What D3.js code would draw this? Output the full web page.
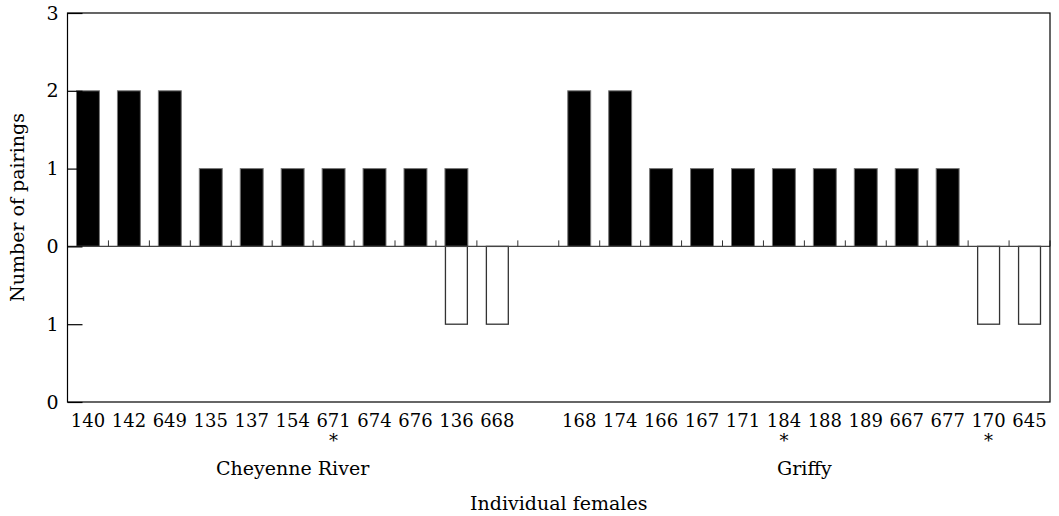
<!DOCTYPE html>
<html>
<head>
<meta charset="utf-8">
<script src="https://cdn.jsdelivr.net/npm/d3@7"></script>
<style>
    body { margin: 0; background: #fff; }
    svg text { font-family: "DejaVu Serif", serif; fill: #000; }
</style>
</head>
<body>
<div id="chart"></div>
<script>
// Individual females, in plotting order ("" = empty spacer slot between sites)
const females = ["140", "142", "649", "135", "137", "154", "671", "674", "676", "136", "668", "",
    "168", "174", "166", "167", "171", "184", "188", "189", "667", "677", "170", "645"];
// Pairings plotted above the zero line (black bars)
const pairingsAbove = [2, 2, 2, 1, 1, 1, 1, 1, 1, 1, 0, 0,
    2, 2, 1, 1, 1, 1, 1, 1, 1, 1, 0, 0];
// Pairings plotted below the zero line (open bars)
const pairingsBelow = [0, 0, 0, 0, 0, 0, 0, 0, 0, 1, 1, 0,
    0, 0, 0, 0, 0, 0, 0, 0, 0, 0, 1, 1];
// Females marked with an asterisk
const starred = ["671", "184", "170"];
// Sites and the first / last female of each
const siteNames = ["Cheyenne River", "Griffy"];
const siteFirst = ["140", "168"];
const siteLast = ["668", "645"];
// Y axis ticks (values) and the labels printed for them
const yTickValues = [-2, -1, 0, 1, 2, 3];
const yTickLabels = ["0", "1", "0", "1", "2", "3"];

const W = 1059, H = 516;
const margin = { top: 13, right: 9, bottom: 114, left: 67.5 };

const svg = d3.select("#chart").append("svg")
    .attr("width", W)
    .attr("height", H);

const slots = females.map((f, i) => f === "" ? "gap" + i : f);

const x = d3.scaleBand()
    .domain(slots)
    .range([margin.left, W - margin.right])
    .paddingInner(0.44)
    .paddingOuter(0.22);

const y = d3.scaleLinear()
    .domain([-2, 3])
    .range([H - margin.bottom, margin.top]);

const rows = slots.map((s, i) => ({ key: s, label: females[i], up: pairingsAbove[i], down: pairingsBelow[i] }));

// Black bars (above zero)
svg.selectAll(".barUp")
    .data(rows.filter(d => d.up > 0))
    .join("rect")
    .attr("class", "barUp")
    .attr("x", d => x(d.key))
    .attr("y", d => y(d.up))
    .attr("width", x.bandwidth())
    .attr("height", d => y(0) - y(d.up))
    .attr("fill", "#000")
    .attr("stroke", "#777")
    .attr("stroke-width", 1);

// Open bars (below zero)
svg.selectAll(".barDown")
    .data(rows.filter(d => d.down > 0))
    .join("rect")
    .attr("class", "barDown")
    .attr("x", d => x(d.key) + 0.5)
    .attr("y", y(0))
    .attr("width", x.bandwidth() - 1)
    .attr("height", d => y(-d.down) - y(0))
    .attr("fill", "#fff")
    .attr("stroke", "#333")
    .attr("stroke-width", 1.3);

// Zero line with small ticks between slots
svg.append("line")
    .attr("x1", margin.left).attr("x2", W - margin.right)
    .attr("y1", y(0)).attr("y2", y(0))
    .attr("stroke", "#444")
    .attr("stroke-width", 1.3);

const boundaries = slots.slice(1).map(s => x(s) - x.step() * x.paddingInner() / 2);
boundaries.push(W - margin.right);
svg.selectAll(".zeroTick")
    .data(boundaries)
    .join("line")
    .attr("class", "zeroTick")
    .attr("x1", d => d).attr("x2", d => d)
    .attr("y1", y(0)).attr("y2", y(0) - 6)
    .attr("stroke", "#333")
    .attr("stroke-width", 1);

// Frame
svg.append("rect")
    .attr("x", margin.left)
    .attr("y", margin.top)
    .attr("width", W - margin.right - margin.left)
    .attr("height", H - margin.bottom - margin.top)
    .attr("fill", "none")
    .attr("stroke", "#000")
    .attr("stroke-width", 1.2);

// Y axis (inward ticks)
const yAxis = d3.axisLeft(y)
    .tickValues(yTickValues)
    .tickFormat((d, i) => yTickLabels[i])
    .tickSizeInner(-15)
    .tickSizeOuter(0)
    .tickPadding(9);

const yg = svg.append("g")
    .attr("transform", `translate(${margin.left},0)`)
    .call(yAxis);
yg.select(".domain").remove();
yg.selectAll("line").attr("stroke", "#000").attr("stroke-width", 1.2);
yg.selectAll("text")
    .style("font-family", "DejaVu Serif")
    .style("font-size", "19px");

// X axis labels (no ticks)
const xAxis = d3.axisBottom(x)
    .tickFormat((d, i) => females[i])
    .tickSize(0)
    .tickPadding(12);

const xg = svg.append("g")
    .attr("transform", `translate(0,${y(-2)})`)
    .call(xAxis);
xg.select(".domain").remove();
xg.selectAll("text")
    .style("font-family", "DejaVu Serif")
    .style("font-size", "18px");

// Asterisks
svg.selectAll(".star")
    .data(starred)
    .join("text")
    .attr("class", "star")
    .attr("x", d => x(d) + x.bandwidth() / 2)
    .attr("y", 447)
    .attr("text-anchor", "middle")
    .style("font-size", "18px")
    .text("*");

// Site labels
svg.selectAll(".site")
    .data(siteNames)
    .join("text")
    .attr("class", "site")
    .attr("x", (d, i) => (x(siteFirst[i]) + x(siteLast[i]) + x.bandwidth()) / 2)
    .attr("y", 475)
    .attr("text-anchor", "middle")
    .style("font-size", "19px")
    .text(d => d);

// Axis titles
svg.append("text")
    .attr("x", (margin.left + W - margin.right) / 2)
    .attr("y", 510)
    .attr("text-anchor", "middle")
    .style("font-size", "19px")
    .text("Individual females");

svg.append("text")
    .attr("transform", `translate(24,${(y(3) + y(-2)) / 2}) rotate(-90)`)
    .attr("text-anchor", "middle")
    .style("font-size", "19px")
    .text("Number of pairings");
</script>
</body>
</html>
